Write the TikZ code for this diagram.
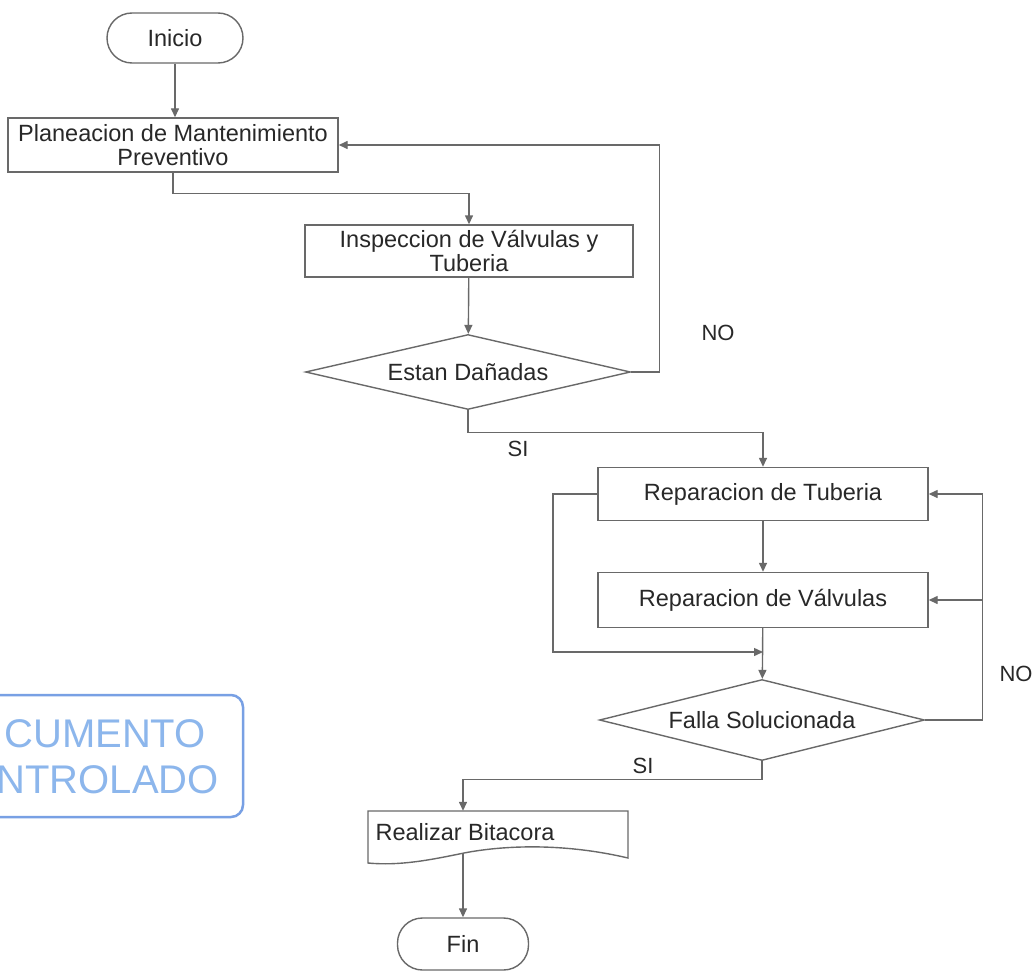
\documentclass[tikz,border=0pt]{standalone}
\usepackage{fontspec}
\setmainfont{Liberation Sans}
\usetikzlibrary{shapes.geometric,arrows.meta}
\definecolor{ln}{RGB}{105,105,105}
\definecolor{tx}{RGB}{40,40,40}
\definecolor{stampc}{RGB}{120,160,228}
\definecolor{stampt}{RGB}{140,182,236}
\begin{document}
\begin{tikzpicture}[x=1pt,y=-1pt,
  every node/.style={font=\fontsize{23.5}{24}\selectfont, text=tx},
  box/.style={draw=ln, line width=1.4pt, rectangle, inner sep=0pt, align=center},
  term/.style={draw=ln, line width=1.4pt, rectangle, rounded corners=25pt, inner sep=0pt},
  dec/.style={draw=ln, line width=1.4pt, diamond, aspect=4.3, inner sep=0pt},
  conn/.style={draw=ln, line width=1.4pt, -{Triangle[length=9pt,width=8pt]}},
  lbl/.style={font=\fontsize{22}{24}\selectfont, inner sep=0pt},
  stamptxt/.style={text=stampt, font=\fontsize{40}{40}\selectfont, inner sep=0pt, anchor=base east}
]
\useasboundingbox (0,0) rectangle (1033,971);
\fill[white] (0,0) rectangle (1033,971);

% stamp
\draw[stampc, line width=2.5pt, rounded corners=12pt] (-30,695) rectangle (243,817);
\node[stamptxt] (s1) at (206,747) {CUMENTO};
\node[stamptxt] (s2) at (219,793) {NTROLADO};

% nodes
\node[term, minimum width=136pt, minimum height=50pt] (ini) at (175,38) {Inicio};
\node[box, minimum width=330pt, minimum height=54pt] (plan) at (173,145) {Planeacion de Mantenimiento\\Preventivo};
\node[box, minimum width=328pt, minimum height=52pt] (insp) at (469,251) {Inspeccion de Válvulas y\\Tuberia};
\node[dec, minimum width=325pt, minimum height=75pt] (dan) at (468,372) {Estan Dañadas};
\node[box, minimum width=330pt, minimum height=53pt] (tub) at (763,494) {Reparacion de Tuberia};
\node[box, minimum width=330pt, minimum height=55pt] (val) at (763,600) {Reparacion de Válvulas};
\node[dec, minimum width=325pt, minimum height=81pt] (fal) at (762,720) {Falla Solucionada};
\node[term, minimum width=131pt, minimum height=52pt] (fin) at (463,944) {Fin};
\node[inner sep=0pt, minimum height=42pt] (bit) at (465,832) {Realizar Bitacora};

% document shape outline
\draw[ln, line width=1.4pt] (368,811) -- (628,811) -- (628,858)
  .. controls (560,842) and (500,846) .. (464,853)
  .. controls (430,860) and (400,866) .. (368,863) -- cycle;

% labels
\node[lbl] (no1) at (718,333) {NO};
\node[lbl] (si1) at (518,449) {SI};
\node[lbl] (no2) at (1016,674) {NO};
\node[lbl] (si2) at (643,766) {SI};

% connectors
\draw[conn] (ini.south) -- (ini.south |- plan.north);
\draw[conn] (plan.south) -- ++(0,21) -| (insp.north);
\draw[conn] (insp) -- (dan);
\draw[conn] (dan.east) -- ++(28,0) |- (plan.east);
\draw[conn] (dan.south) -- ++(0,22) -| (tub.north);
\draw[conn] (tub) -- (val);
\coordinate (byp) at (553,652);
\draw[conn] (tub.west) -| (byp) -- (byp -| val.south);
\draw[conn] (val) -- (fal);
\coordinate (nx) at ([xshift=57pt]fal.east);
\draw[conn] (fal.east) -- (nx) |- (tub.east);
\draw[conn] (nx |- val.east) -- (val.east);
\draw[conn] (fal.south) -- ++(0,18) -| (fin.north |- bit.north);
\draw[conn] (fin.north |- bit.south) -- (fin.north);
\end{tikzpicture}
\end{document}
